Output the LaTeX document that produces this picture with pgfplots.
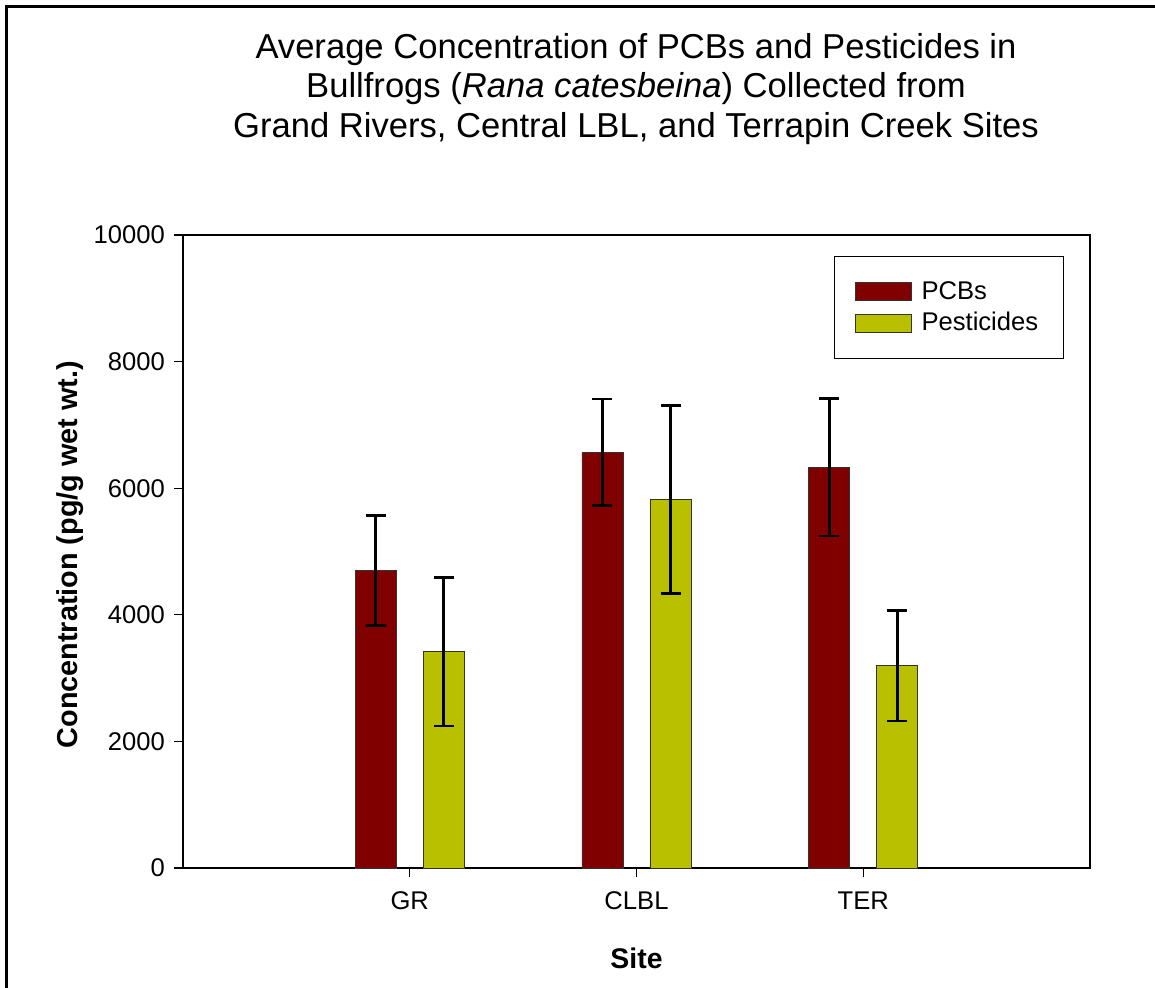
\documentclass[border=0pt]{standalone}
\usepackage{fontspec}
\setmainfont{Liberation Sans}
\usepackage{pgfplots}
\usepackage{pgfplotstable}
\pgfplotsset{compat=1.18}
\definecolor{pcbred}{RGB}{128,0,0}
\definecolor{pestyel}{RGB}{184,192,0}
\pgfplotstableread{
x y e
-0.15 4697 870
0.85 6567 845
1.85 6330 1085
}\pcbs
\pgfplotstableread{
x y e
0.15 3417 1172
1.15 5824 1487
2.15 3196 872
}\pests
\begin{document}
\begin{tikzpicture}
\useasboundingbox (0,0) rectangle (577.5pt,-494pt);
\draw[line width=1.5pt] (3pt,-600pt) -- (3pt,-3.5pt) -- (700pt,-3.5pt);
\node[align=center,font=\fontsize{17.3}{19.75}\selectfont] at (318pt,-44.5pt)
 {Average Concentration of PCBs and Pesticides in\\
  Bullfrogs (\textit{Rana catesbeina}) Collected from\\
  Grand Rivers, Central LBL, and Terrapin Creek Sites};
\begin{axis}[
  at={(91.5pt,-434pt)}, anchor=south west,
  scale only axis, width=453.5pt, height=316.5pt,
  xmin=-1, xmax=3, ymin=0, ymax=10000,
  xtick={0,1,2}, xticklabels={GR,CLBL,TER},
  ytick={0,2000,4000,6000,8000,10000},
  scaled y ticks=false,
  tick pos=left, tick align=outside,
  major tick length=4.5pt,
  axis line style={line width=0.6pt},
  every tick/.style={black,line width=0.6pt},
  /pgf/number format/assume math mode=true,
  /pgf/number format/1000 sep={},
  tick label style={font=\fontsize{12.8}{15}\selectfont},
  xticklabel style={yshift=-4pt},
  yticklabel style={xshift=-1pt},
  ylabel={Concentration (pg/g wet wt.)},
  xlabel={Site},
  every axis y label/.style={at={(axis description cs:-0.125,0.495)},rotate=90,anchor=center,font=\bfseries\fontsize{14.4}{16}\selectfont},
  every axis x label/.style={at={(axis description cs:0.5,-0.142)},anchor=center,font=\bfseries\fontsize{14.2}{16}\selectfont},
  ybar, bar width=0.181, bar shift=0pt,
  legend style={at={(axis description cs:0.971,0.967)},anchor=north east,
    draw=black, line width=0.5pt, font=\fontsize{12.8}{15}\selectfont,
    inner xsep=10.5pt, inner ysep=10.5pt, row sep=1pt},
  legend cell align=left,
  legend image code/.code={\draw[#1,line width=0.4pt] (0pt,-4.5pt) rectangle (28pt,4.5pt); \path[draw=none,fill=none] (28pt,0pt) -- (31pt,0pt);},
]
\addplot[fill=pcbred, draw=black!80, line width=0.4pt,
  error bars/.cd, y dir=both, y explicit,
  error bar style={black,line width=1.3pt},
  error mark options={black,line width=1.3pt,mark size=5pt,rotate=90}]
  table[x=x,y=y,y error=e]{\pcbs};
\addlegendentry{PCBs}
\addplot[fill=pestyel, draw=black!80, line width=0.4pt,
  error bars/.cd, y dir=both, y explicit,
  error bar style={black,line width=1.3pt},
  error mark options={black,line width=1.3pt,mark size=5pt,rotate=90}]
  table[x=x,y=y,y error=e]{\pests};
\addlegendentry{Pesticides}
\end{axis}
\end{tikzpicture}
\end{document}
